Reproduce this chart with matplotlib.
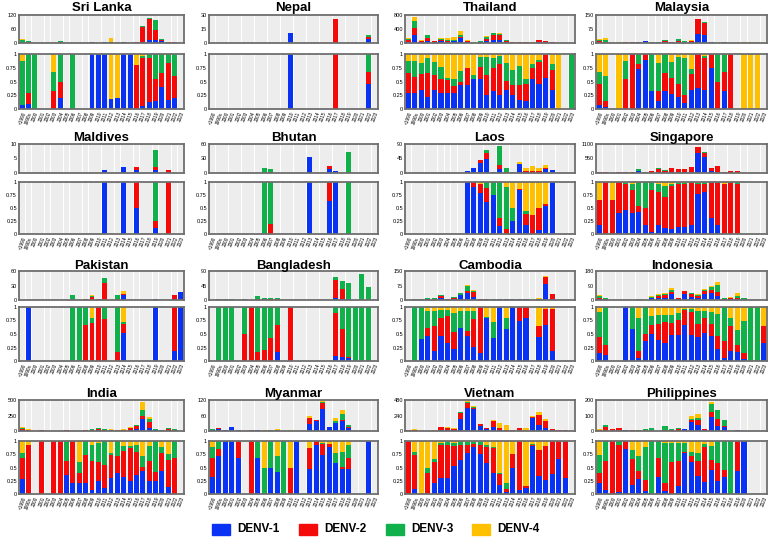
import matplotlib
matplotlib.use("Agg")
import matplotlib.pyplot as plt
from matplotlib.patches import Rectangle
import numpy as np

plt.rcParams['font.family'] = ['Liberation Sans', 'DejaVu Sans']

YEARS = ["<1990", "1990s"] + [str(y) for y in range(2000, 2024)]
SEROTYPES = ["DENV-1", "DENV-2", "DENV-3", "DENV-4"]
COLORS = ["#0A32F5", "#F50A0A", "#10B04A", "#FFC000"]

# ---- Sri Lanka ----
SRI_LANKA_TOTAL = [17,10,2,0,0,3,10,0,2,0,0,5,2,3,21,5,5,2,5,74,109,100,17,6,5,0]
SRI_LANKA_D1 = [.07,.1,0,0,0,0,.2,0,0,0,0,1,1,1,.18,.2,1,1,0,.05,.12,.14,.4,.17,.2,0]
SRI_LANKA_D2 = [0,.2,0,0,0,.33,.3,0,0,0,0,0,0,0,0,0,0,0,.8,.88,.81,.41,.25,.67,.4,0]
SRI_LANKA_D3 = [.8,.7,1,0,0,.34,.5,0,1,0,0,0,0,0,0,0,0,0,0,.04,.07,.45,.35,.16,.4,0]
SRI_LANKA_D4 = [.13,0,0,0,0,.33,0,0,0,0,0,0,0,0,.82,.8,0,0,.2,.03,0,0,0,0,0,0]

# ---- Nepal ----
NEPAL_TOTAL = [0,0,0,0,0,0,0,0,0,0,0,0,11,0,0,0,0,0,0,26,0,0,0,0,9,0]
NEPAL_D1 = [0,0,0,0,0,0,0,0,0,0,0,0,1,0,0,0,0,0,0,0,0,0,0,0,.45,0]
NEPAL_D2 = [0,0,0,0,0,0,0,0,0,0,0,0,0,0,0,0,0,0,0,1,0,0,0,0,.22,0]
NEPAL_D3 = [0,0,0,0,0,0,0,0,0,0,0,0,0,0,0,0,0,0,0,0,0,0,0,0,.33,0]
NEPAL_D4 = [0]*26

# ---- Thailand ----
THAILAND_TOTAL = [130,730,80,240,70,150,130,160,330,80,20,50,190,300,280,90,40,40,40,15,95,45,30,5,0,3]
THAILAND_D1 = [.3,.3,.34,.22,.35,.29,.29,.29,.43,.44,.55,.55,.25,.33,.26,.34,.25,.17,.15,.55,.45,.56,.34,0,0,0]
THAILAND_D2 = [.35,.28,.3,.43,.27,.25,.23,.12,.06,.31,0,.21,.36,.42,.55,.17,.18,.27,.3,.2,.4,.42,.37,0,0,0]
THAILAND_D3 = [.22,.29,.19,.27,.23,.22,.05,.14,.2,0,.07,.19,.34,.18,.15,.33,.28,.34,.09,.06,.04,0,.11,0,0,1]
THAILAND_D4 = [.13,.13,.17,.08,.15,.24,.43,.45,.31,.25,.38,.05,.05,.07,.04,.16,.29,.22,.46,.19,.11,.02,.18,1,0,0]

# ---- Malaysia ----
MALAYSIA_TOTAL = [21,25,0,3,8,3,8,10,3,6,14,7,22,9,14,128,115,4,2,3,1,0,3,4,4,0]
MALAYSIA_D1 = [.08,.03,0,0,0,0,.72,.9,.33,.15,.33,.28,.22,.11,.35,.39,.35,.75,0,.33,0,0,0,0,0,0]
MALAYSIA_D2 = [.37,.12,0,0,.55,1,.1,.1,0,.18,.33,.29,.23,.14,.29,.61,.58,.25,.5,.34,1,0,0,0,0,0]
MALAYSIA_D3 = [.23,.45,0,0,.33,0,.18,0,.67,.5,.34,.29,.49,.67,.08,0,.04,0,.5,.33,0,0,0,0,0,0]
MALAYSIA_D4 = [.32,.4,0,1,.12,0,0,0,0,.17,0,.14,.06,.08,.28,0,.03,0,0,0,0,0,1,1,1,0]

# ---- Maldives ----
MALDIVES_TOTAL = [0,0,0,0,0,0,0,0,0,0,0,0,0,1,0,0,2,0,2,0,0,8,0,1,0,0]
MALDIVES_D1 = [0,0,0,0,0,0,0,0,0,0,0,0,0,1,0,0,1,0,.5,0,0,.12,0,0,0,0]
MALDIVES_D2 = [0,0,0,0,0,0,0,0,0,0,0,0,0,0,0,0,0,0,.5,0,0,.13,0,1,0,0]
MALDIVES_D3 = [0,0,0,0,0,0,0,0,0,0,0,0,0,0,0,0,0,0,0,0,0,.75,0,0,0,0]
MALDIVES_D4 = [0]*26

# ---- Bhutan ----
BHUTAN_TOTAL = [0,0,0,0,0,0,0,0,10,9,0,0,0,0,0,33,0,0,14,5,0,44,0,0,0,0]
BHUTAN_D1 = [0,0,0,0,0,0,0,0,0,0,0,0,0,0,0,1,0,0,.63,1,0,0,0,0,0,0]
BHUTAN_D2 = [0,0,0,0,0,0,0,0,0,.2,0,0,0,0,0,0,0,0,.37,0,0,0,0,0,0,0]
BHUTAN_D3 = [0,0,0,0,0,0,0,0,1,.8,0,0,0,0,0,0,0,0,0,0,0,1,0,0,0,0]
BHUTAN_D4 = [0]*26

# ---- Laos ----
LAOS_TOTAL = [0,0,0,0,0,0,0,0,0,7,17,41,71,4,83,17,4,33,16,21,14,25,9,0,0,0]
LAOS_D1 = [0,0,0,0,0,0,0,0,0,1,.9,.78,.62,.75,.15,0,.25,.85,.18,0,.07,.54,1,0,0,0]
LAOS_D2 = [0,0,0,0,0,0,0,0,0,0,.1,.19,.26,0,.15,.1,0,.02,.2,.36,.43,.03,0,0,0,0]
LAOS_D3 = [0,0,0,0,0,0,0,0,0,0,0,0,.12,.25,.7,.8,.25,0,.06,0,0,0,0,0,0,0]
LAOS_D4 = [0,0,0,0,0,0,0,0,0,0,0,.03,0,0,0,.1,.5,.13,.56,.64,.5,.43,0,0,0,0]

# ---- Singapore ----
SINGAPORE_TOTAL = [30,20,10,20,40,40,140,30,80,180,120,190,170,150,230,1000,780,200,270,50,70,90,0,0,0,0]
SINGAPORE_D1 = [.17,0,0,.4,.47,.41,.43,.17,.03,.17,.12,.1,.13,.13,.17,.76,.8,.3,.17,0,0,0,0,0,0,0]
SINGAPORE_D2 = [.49,1,.66,.6,.5,.44,.11,.33,.81,.63,.6,.82,.84,.84,.82,.21,.17,.69,.82,.97,.98,.97,0,0,0,0]
SINGAPORE_D3 = [0,0,0,0,.02,.11,.46,.5,.16,.16,.2,.04,.02,.02,.01,.02,.03,.01,.01,0,.02,.03,0,0,0,0]
SINGAPORE_D4 = [.34,0,.34,0,.01,.04,0,0,0,.04,.08,.04,.01,.01,0,.01,0,0,0,.03,0,0,0,0,0,0]

# ---- Pakistan ----
PAKISTAN_TOTAL = [0,1,0,0,0,0,0,0,10,1,3,10,2,45,0,11,18,0,0,0,0,2,0,0,11,17]
PAKISTAN_D1 = [0,1,0,0,0,0,0,0,0,0,0,0,0,0,0,0,.52,0,0,0,0,1,0,0,.18,1]
PAKISTAN_D2 = [0,0,0,0,0,0,0,0,0,0,.67,.7,1,.78,0,.17,.16,0,0,0,0,0,0,0,.82,0]
PAKISTAN_D3 = [0,0,0,0,0,0,0,0,1,1,.33,.1,0,.22,0,.83,.05,0,0,0,0,0,0,0,0,0]
PAKISTAN_D4 = [0,0,0,0,0,0,0,0,0,0,0,.2,0,0,0,0,.27,0,0,0,0,0,0,0,0,0]

# ---- Bangladesh ----
BANGLADESH_TOTAL = [0,3,3,3,0,2,1,11,5,6,5,0,1,0,0,0,0,0,0,70,58,53,1,80,40,0]
BANGLADESH_D1 = [0,0,0,0,0,0,0,0,0,0,.17,0,0,0,0,0,0,0,0,.1,.08,.06,0,0,0,0]
BANGLADESH_D2 = [0,0,0,0,0,.5,1,.17,.2,.42,.5,0,1,0,0,0,0,0,0,.78,.52,.02,0,0,0,0]
BANGLADESH_D3 = [0,1,1,1,0,.5,0,.83,.8,.58,.33,0,0,0,0,0,0,0,0,.12,.4,.92,1,1,1,0]
BANGLADESH_D4 = [0]*26

# ---- Cambodia ----
CAMBODIA_TOTAL = [0,3,5,12,12,25,5,17,38,80,50,7,4,5,3,5,3,4,5,0,11,125,33,0,0,0]
CAMBODIA_D1 = [0,0,.4,.46,.18,.46,.33,.23,.62,.46,.26,.15,.8,.43,1,.6,1,.75,.8,0,.45,.66,.18,0,0,0]
CAMBODIA_D2 = [0,0,0,.16,.46,.34,.5,.3,0,.09,.52,.85,0,0,0,0,0,.25,.2,0,.19,.31,.79,0,0,0]
CAMBODIA_D3 = [0,1,.6,.3,.28,.15,.12,.35,.31,.38,.15,0,.01,.29,0,.2,0,0,0,0,0,0,0,0,0,0]
CAMBODIA_D4 = [0,0,0,.08,.08,.05,.05,.12,.07,.07,.07,0,.19,.28,0,.2,0,0,0,0,.36,.03,.03,0,0,0]

# ---- Indonesia ----
INDONESIA_TOTAL = [30,12,0,0,3,3,8,3,22,40,45,75,13,58,42,35,70,90,110,12,18,45,14,2,2,3]
INDONESIA_D1 = [.15,.12,0,0,1,.6,.06,.37,.5,.38,.34,.48,.49,.66,.48,.44,.52,.46,.22,.05,.19,.17,.03,0,0,.33]
INDONESIA_D2 = [.3,.18,0,0,0,0,.12,.13,.16,.3,.38,.22,.27,.29,.42,.24,.28,.23,.25,.32,.45,.12,.12,0,0,.32]
INDONESIA_D3 = [.45,.7,0,0,0,.4,.62,.5,.17,.17,.13,.15,.12,.02,.07,.25,.13,.21,.4,.63,.16,.28,.6,1,1,0]
INDONESIA_D4 = [.1,0,0,0,0,0,.2,0,.17,.15,.15,.15,.12,.03,.03,.07,.07,.1,.13,0,.2,.43,.25,0,0,.35]

# ---- India ----
INDIA_TOTAL = [60,25,0,15,0,5,5,15,5,5,15,30,45,25,30,15,25,60,100,460,220,40,10,55,30,0]
INDIA_D1 = [.28,0,0,0,0,0,0,.36,.2,.2,.2,.08,.25,.12,.3,.39,.32,.25,.35,.43,.25,.25,.44,.14,0,0]
INDIA_D2 = [.39,.93,0,1,0,1,1,.27,.8,.2,.54,.55,.35,.43,.43,.33,.5,.61,.44,.08,.38,.16,.34,.51,.67,0]
INDIA_D3 = [.1,0,0,0,0,0,0,.37,0,.2,.26,.29,.37,.45,.05,.28,.08,.04,.13,.21,.27,.59,.11,.1,.33,0]
INDIA_D4 = [.23,.07,0,0,0,0,0,0,0,.4,0,.08,.03,0,.22,0,.1,.1,.08,.28,.1,0,.11,.25,0,0]

# ---- Myanmar ----
MYANMAR_TOTAL = [7,12,5,14,3,0,2,3,2,2,7,1,2,1,0,60,43,115,16,52,82,24,0,0,1,0]
MYANMAR_D1 = [.33,.71,1,1,.67,0,0,.67,0,.5,.42,0,0,1,0,.48,.93,.73,.88,.58,.48,.48,0,0,1,0]
MYANMAR_D2 = [.34,.14,0,0,.33,0,1,0,0,0,0,0,.5,0,0,.39,.07,.21,.07,0,.03,.19,0,0,0,0]
MYANMAR_D3 = [.21,.15,0,0,0,0,0,.33,.5,.5,.3,1,0,0,0,0,0,.03,0,.19,.29,.25,0,0,0,0]
MYANMAR_D4 = [.12,0,0,0,0,0,0,0,.5,0,.28,0,.5,0,0,.13,0,.03,.05,.23,.2,.08,0,0,0,0]

# ---- Vietnam ----
VIETNAM_TOTAL = [10,25,5,5,10,65,55,40,300,460,380,110,50,170,120,90,15,40,40,230,290,180,30,10,15,0]
VIETNAM_D1 = [0,.1,0,0,.2,.31,.31,.53,.64,.78,.88,.76,.59,.4,.17,.04,.5,.08,.12,.9,.34,.27,.38,.66,.3,0]
VIETNAM_D2 = [1,.63,0,.4,.41,.61,.62,.37,.29,.15,.07,.17,.29,.47,.2,.06,.25,.92,.03,.02,.49,.63,.62,.34,.7,0]
VIETNAM_D3 = [0,.06,0,.1,.05,.05,.05,.06,.05,.05,.04,.05,.05,.01,.03,.1,0,0,0,.03,0,0,0,0,0,0]
VIETNAM_D4 = [0,.21,1,.5,.34,.03,.02,.04,.02,.02,.01,.02,.07,.12,.6,.8,.25,0,.85,.05,.17,.1,0,0,0,0]

# ---- Philippines ----
PHILIPPINES_TOTAL = [12,40,10,22,8,5,5,15,22,3,33,12,20,13,100,110,15,190,135,70,3,8,2,0,0,0]
PHILIPPINES_D1 = [.2,.07,0,.04,.85,.17,.28,.06,0,.33,.05,0,.16,.77,.6,.34,.23,.46,.24,.33,0,.43,1,0,0,0]
PHILIPPINES_D2 = [.19,.55,1,.88,.15,.49,.15,.21,0,.34,.15,.61,.47,.02,.12,.29,.65,.19,.35,.13,0,.57,0,0,0,0]
PHILIPPINES_D3 = [.34,.38,0,.08,0,.17,.28,.61,1,.33,.76,.36,.33,.17,.08,.15,.06,.25,.41,.54,1,0,0,0,0,0]
PHILIPPINES_D4 = [.27,0,0,0,0,.17,.29,.12,0,0,.04,.03,.04,.04,.2,.22,.06,.1,0,0,0,0,0,0,0,0]

COUNTRIES = [
    ("Sri Lanka", SRI_LANKA_TOTAL, [SRI_LANKA_D1, SRI_LANKA_D2, SRI_LANKA_D3, SRI_LANKA_D4], 120),
    ("Nepal", NEPAL_TOTAL, [NEPAL_D1, NEPAL_D2, NEPAL_D3, NEPAL_D4], 30),
    ("Thailand", THAILAND_TOTAL, [THAILAND_D1, THAILAND_D2, THAILAND_D3, THAILAND_D4], 800),
    ("Malaysia", MALAYSIA_TOTAL, [MALAYSIA_D1, MALAYSIA_D2, MALAYSIA_D3, MALAYSIA_D4], 150),
    ("Maldives", MALDIVES_TOTAL, [MALDIVES_D1, MALDIVES_D2, MALDIVES_D3, MALDIVES_D4], 10),
    ("Bhutan", BHUTAN_TOTAL, [BHUTAN_D1, BHUTAN_D2, BHUTAN_D3, BHUTAN_D4], 60),
    ("Laos", LAOS_TOTAL, [LAOS_D1, LAOS_D2, LAOS_D3, LAOS_D4], 90),
    ("Singapore", SINGAPORE_TOTAL, [SINGAPORE_D1, SINGAPORE_D2, SINGAPORE_D3, SINGAPORE_D4], 1100),
    ("Pakistan", PAKISTAN_TOTAL, [PAKISTAN_D1, PAKISTAN_D2, PAKISTAN_D3, PAKISTAN_D4], 60),
    ("Bangladesh", BANGLADESH_TOTAL, [BANGLADESH_D1, BANGLADESH_D2, BANGLADESH_D3, BANGLADESH_D4], 90),
    ("Cambodia", CAMBODIA_TOTAL, [CAMBODIA_D1, CAMBODIA_D2, CAMBODIA_D3, CAMBODIA_D4], 150),
    ("Indonesia", INDONESIA_TOTAL, [INDONESIA_D1, INDONESIA_D2, INDONESIA_D3, INDONESIA_D4], 180),
    ("India", INDIA_TOTAL, [INDIA_D1, INDIA_D2, INDIA_D3, INDIA_D4], 500),
    ("Myanmar", MYANMAR_TOTAL, [MYANMAR_D1, MYANMAR_D2, MYANMAR_D3, MYANMAR_D4], 120),
    ("Vietnam", VIETNAM_TOTAL, [VIETNAM_D1, VIETNAM_D2, VIETNAM_D3, VIETNAM_D4], 480),
    ("Philippines", PHILIPPINES_TOTAL, [PHILIPPINES_D1, PHILIPPINES_D2, PHILIPPINES_D3, PHILIPPINES_D4], 200),
]

W, H = 775, 541
fig = plt.figure(figsize=(W / 100, H / 100), dpi=100)

def px_axes(left, top, right, bottom):
    return fig.add_axes([left / W, 1 - bottom / H, (right - left) / W, (bottom - top) / H])

COL_L = [19, 209, 405, 596]
COL_R = [184, 378, 575, 767]
# title_y, top panel top/bottom, proportion panel top/bottom
ROWS = [(8, 15, 43, 54, 109),
        (138, 144, 173, 182, 234),
        (266, 271, 300, 307, 361),
        (394, 400, 431, 441, 494)]

SPINE = "#6E6E6E"
BG = "#EDEDED"
x = np.arange(len(YEARS))

def style(ax, ymax):
    ax.set_facecolor("white")
    ax.bar(x, [ymax] * len(x), width=0.9, color=BG, zorder=0)
    ax.set_xlim(-0.5, len(x) - 0.5)
    ax.set_ylim(0, ymax)
    for s in ax.spines.values():
        s.set_color(SPINE)
        s.set_linewidth(1.3)
    ax.tick_params(length=0, pad=1.5, labelsize=4)

for i, (name, total, props, ymax) in enumerate(COUNTRIES):
    r, c = divmod(i, 4)
    ty, t0, t1, b0, b1 = ROWS[r]
    L, R = COL_L[c], COL_R[c]
    fig.text((L + R) / 2 / W, 1 - ty / H, name, ha="center", va="center",
             fontsize=9.5, fontweight="bold")
    axt = px_axes(L, t0, R, t1)
    axb = px_axes(L, b0, R, b1)
    style(axt, ymax)
    style(axb, 1)
    tot = np.array(total, dtype=float)
    bot_c = np.zeros(len(x))
    bot_p = np.zeros(len(x))
    for p, col in zip(props, COLORS):
        p = np.array(p, dtype=float)
        cnt = tot * p
        axt.bar(x, cnt, bottom=bot_c, width=0.78, color=col, zorder=2)
        axb.bar(x, p, bottom=bot_p, width=0.78, color=col, zorder=2)
        bot_c += cnt
        bot_p += p
    axt.set_yticks([0, ymax / 2, ymax])
    axt.set_yticklabels(["0", f"{ymax/2:g}", f"{ymax:g}"])
    axt.set_xticks([])
    axb.set_yticks([0, 0.25, 0.5, 0.75, 1])
    axb.set_yticklabels(["0", "0.25", "0.5", "0.75", "1"])
    axb.set_xticks(x)
    axb.set_xticklabels(YEARS, rotation=70, ha="right", va="top",
                        rotation_mode="anchor", fontsize=3.4)

# legend
leg_x = [212, 299, 386, 472]
for lx, lab, col in zip(leg_x, SEROTYPES, COLORS):
    fig.patches.append(Rectangle((lx / W, 1 - 535 / H), 18 / W, 11 / H,
                                 transform=fig.transFigure, color=col))
    fig.text((lx + 25) / W, 1 - 529.5 / H, lab, ha="left", va="center",
             fontsize=8.5, fontweight="bold")

fig.savefig("out.png", dpi=100)
